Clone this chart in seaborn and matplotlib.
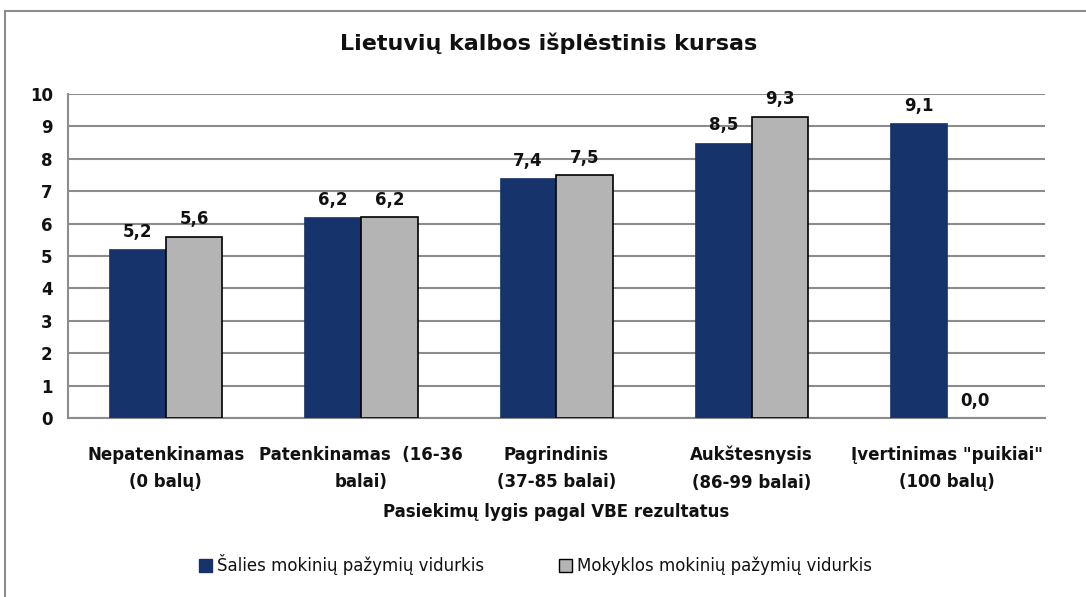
import matplotlib
matplotlib.use("Agg")
import matplotlib.pyplot as plt
import matplotlib.patches as mpatches
import seaborn as sns
import pandas as pd
import numpy as np

# data
categories = [
    "Nepatenkinamas\n(0 balų)",
    "Patenkinamas  (16-36\nbalai)",
    "Pagrindinis\n(37-85 balai)",
    "Aukštesnysis\n(86-99 balai)",
    "Įvertinimas \"puikiai\"\n(100 balų)",
]
series_names = ["Šalies mokinių pažymių vidurkis", "Mokyklos mokinių pažymių vidurkis"]
salies = [5.2, 6.2, 7.4, 8.5, 9.1]
mokyklos = [5.6, 6.2, 7.5, 9.3, 0.0]
y_ticks = list(range(0, 11))

df = pd.DataFrame({
    "cat": categories * 2,
    "series": [series_names[0]] * 5 + [series_names[1]] * 5,
    "value": salies + mokyklos,
})

sns.set_theme(style="white")
plt.rcParams['font.family'] = ['DejaVu Sans']
plt.rcParams['text.color'] = '#111111'
plt.rcParams['xtick.color'] = '#111111'
plt.rcParams['ytick.color'] = '#111111'
plt.rcParams['axes.labelcolor'] = '#111111'

fig = plt.figure(figsize=(10.86, 5.97), dpi=100)
ax = fig.add_axes([0.0626, 0.300, 0.8994, 0.5425])

colors = ["#17336B", "#B4B4B4"]
sns.barplot(data=df, x="cat", y="value", hue="series", palette=colors, saturation=1,
            width=0.58, ax=ax, legend=False, zorder=3)
for i, cont in enumerate(ax.containers):
    for p in cont:
        if p.get_height() == 0:
            p.set_linewidth(0)
        elif i == 1:
            p.set_edgecolor("black")
            p.set_linewidth(1.2)
        else:
            p.set_edgecolor("#17336B")
            p.set_linewidth(0.5)
    vals = salies if i == 0 else mokyklos
    ax.bar_label(cont, labels=[f"{v:.1f}".replace(".", ",") for v in vals],
                 padding=6, fontsize=12, fontweight="bold")

ax.set_ylim(0, 10)
ax.set_xlim(-0.5, 4.5)
ax.set_yticks(y_ticks)
ax.yaxis.grid(True, color="#8C8C8C", linewidth=1.5, zorder=0)
ax.set_axisbelow(True)
for s in ["top", "right"]:
    ax.spines[s].set_visible(False)
for s in ["left", "bottom"]:
    ax.spines[s].set_color("#8C8C8C")
    ax.spines[s].set_linewidth(1.5)

ax.tick_params(axis="y", direction="out", length=5, width=1.2, color="#8C8C8C",
               labelsize=12, pad=6)
for t in ax.get_yticklabels():
    t.set_fontweight("bold")
ax.set_xticks(np.arange(-0.5, 5.0, 1.0), minor=True)
ax.tick_params(axis="x", which="minor", direction="out", length=6, width=1.2, color="#8C8C8C")
ax.tick_params(axis="x", which="major", length=0, labelsize=12, pad=20)
for t in ax.get_xticklabels():
    t.set_fontweight("bold")
    t.set_linespacing(1.7)

ax.set_xlabel("Pasiekimų lygis pagal VBE rezultatus", fontsize=12, fontweight="bold", labelpad=8)
ax.set_ylabel("")

fig.suptitle("Lietuvių kalbos išplėstinis kursas", x=0.505, y=0.945, fontsize=16, fontweight="bold")

handles = [mpatches.Patch(facecolor=colors[0], edgecolor=colors[0], label=series_names[0]),
           mpatches.Patch(facecolor=colors[1], edgecolor="black", label=series_names[1])]
fig.legend(handles=handles, loc="center", bbox_to_anchor=(0.493, 0.054), ncol=2,
           frameon=False, fontsize=12, handlelength=0.8, handleheight=0.8,
           handletextpad=0.3, columnspacing=4.5)

# outer chart border
fig.patches.append(mpatches.Rectangle((0.005, -0.1), 1.2, 1.082, transform=fig.transFigure,
                                      fill=False, edgecolor="#8C8C8C", linewidth=1.5))

fig.savefig("out.png", dpi=100)
